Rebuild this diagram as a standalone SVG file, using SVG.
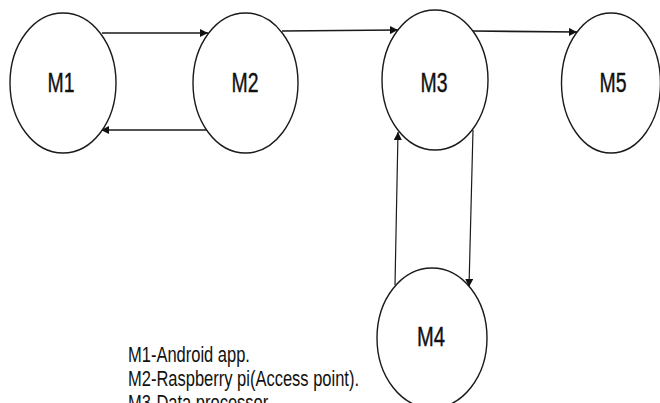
<svg xmlns="http://www.w3.org/2000/svg" width="660" height="403" viewBox="0 0 660 403">
  <style>
    .node ellipse { fill: #ffffff; stroke: #1a1a1a; stroke-width: 1.4; }
    .node text { font-family: "Liberation Sans", Arial, sans-serif; font-size: 28px; fill: #111111; text-anchor: middle; stroke: #111111; stroke-width: 0.4; }
    .edge { fill: none; stroke: #1a1a1a; stroke-width: 1.7; marker-end: url(#arrow); }
    .edge.thin { stroke-width: 1.2; }
    .legend text { font-family: "Liberation Sans", Arial, sans-serif; font-size: 22px; fill: #111111; }
  </style>
  <defs>
    <marker id="arrow" viewBox="0 0 10 10" refX="10" refY="5" markerWidth="8" markerHeight="8" markerUnits="userSpaceOnUse" orient="auto">
      <path d="M0,0 L10,5 L0,10 z" fill="#111111"/>
    </marker>
  </defs>
  <rect width="660" height="403" fill="#ffffff"/>

  <g id="connectors">
    <line class="edge" x1="102" y1="33" x2="208" y2="33"/>
    <line class="edge" x1="207" y1="130" x2="101" y2="130"/>
    <line class="edge" x1="282" y1="31" x2="398" y2="30"/>
    <line class="edge" x1="473" y1="31" x2="577" y2="32"/>
    <line class="edge thin" x1="395" y1="285" x2="398" y2="132"/>
    <line class="edge thin" x1="473" y1="130" x2="469" y2="287"/>
  </g>

  <g id="M1" class="node">
    <ellipse cx="63" cy="83" rx="53" ry="70"/>
    <text x="61" y="92" textLength="27" lengthAdjust="spacingAndGlyphs">M1</text>
  </g>
  <g id="M2" class="node">
    <ellipse cx="245.5" cy="83" rx="52.5" ry="70"/>
    <text x="245" y="92" textLength="27" lengthAdjust="spacingAndGlyphs">M2</text>
  </g>
  <g id="M3" class="node">
    <ellipse cx="435" cy="80" rx="53" ry="70"/>
    <text x="434" y="92" textLength="27" lengthAdjust="spacingAndGlyphs">M3</text>
  </g>
  <g id="M5" class="node">
    <ellipse cx="611" cy="83" rx="49.5" ry="70"/>
    <text x="613" y="92" textLength="27" lengthAdjust="spacingAndGlyphs">M5</text>
  </g>
  <g id="M4" class="node">
    <ellipse cx="432" cy="338" rx="55" ry="70"/>
    <text x="431" y="346" textLength="28" lengthAdjust="spacingAndGlyphs">M4</text>
  </g>

  <g id="legend" class="legend" transform="translate(128 0) scale(0.75 1)">
    <text x="0" y="362">M1-Android app.</text>
    <text x="0" y="386">M2-Raspberry pi(Access point).</text>
    <text x="0" y="410">M3-Data processor</text>
  </g>
</svg>
